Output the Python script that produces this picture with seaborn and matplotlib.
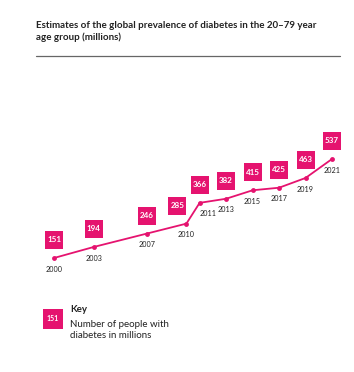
import matplotlib.pyplot as plt
import matplotlib.transforms as mtrans
import seaborn as sns
import pandas as pd
from matplotlib.lines import Line2D

years = [2000, 2003, 2007, 2010, 2011, 2013, 2015, 2017, 2019, 2021]
millions = [151, 194, 246, 285, 366, 382, 415, 425, 463, 537]

pink = '#e5136f'
txt = '#222222'

sns.set_theme(style='white')
plt.rcParams['font.family'] = ['Lato', 'DejaVu Sans']

df = pd.DataFrame({'Year': years, 'Millions': millions})

fig = plt.figure(figsize=(3.54, 3.72), dpi=100)
ax = fig.add_axes([0, 0, 1, 1])

sns.lineplot(data=df, x='Year', y='Millions', ax=ax, color=pink, lw=1.3,
             marker='o', markersize=3.5, markeredgewidth=0)

# axis limits chosen so the line sits where it does in the page layout
ax.set_xlim(1995.92, 2022.66)
ax.set_ylim(-293.5, 1156.9)
ax.set_axis_off()

# value boxes above, year labels below
box_dx = {285: -6.5}
year_dx = {2011: 6}
for yr, val in zip(years, millions):
    dx = box_dx.get(val, 0)
    shift = mtrans.ScaledTranslation(dx / 72, 13 / 72, fig.dpi_scale_trans)
    ax.scatter([yr], [val], marker='s', s=165, color=pink, lw=0,
               transform=ax.transData + shift, zorder=3)
    ax.annotate(str(val), xy=(yr, val), xytext=(dx, 13),
                textcoords='offset points', ha='center', va='center',
                color='white', fontsize=5.8, fontweight='bold', zorder=4)
    ax.annotate(str(yr), xy=(yr, val), xytext=(year_dx.get(yr, 0), -8),
                textcoords='offset points', ha='center', va='center',
                color=txt, fontsize=5.2)

# title and rule
fig.text(36 / 354, 1 - 21 / 372,
         'Estimates of the global prevalence of diabetes in the 20–79 year\n'
         'age group (millions)',
         ha='left', va='top', fontsize=7, fontweight='bold', color=txt,
         linespacing=1.35)
fig.add_artist(Line2D([36 / 354, 340 / 354], [1 - 56 / 372, 1 - 56 / 372],
                      color='#666666', lw=0.9, transform=fig.transFigure))

# key
fig.add_artist(Line2D([53 / 354], [1 - 318.5 / 372], marker='s',
                      markersize=14.5, color=pink, markeredgewidth=0,
                      transform=fig.transFigure))
fig.text(53 / 354, 1 - 318.5 / 372, '151', ha='center', va='center',
         color='white', fontsize=5, fontweight='bold')
fig.text(70 / 354, 1 - 309 / 372, 'Key', ha='left', va='center',
         fontsize=7, fontweight='bold', color=txt)
fig.text(70 / 354, 1 - 320 / 372, 'Number of people with\ndiabetes in millions',
         ha='left', va='top', fontsize=7, color=txt, linespacing=1.3)

plt.savefig('out.png', dpi=100)
